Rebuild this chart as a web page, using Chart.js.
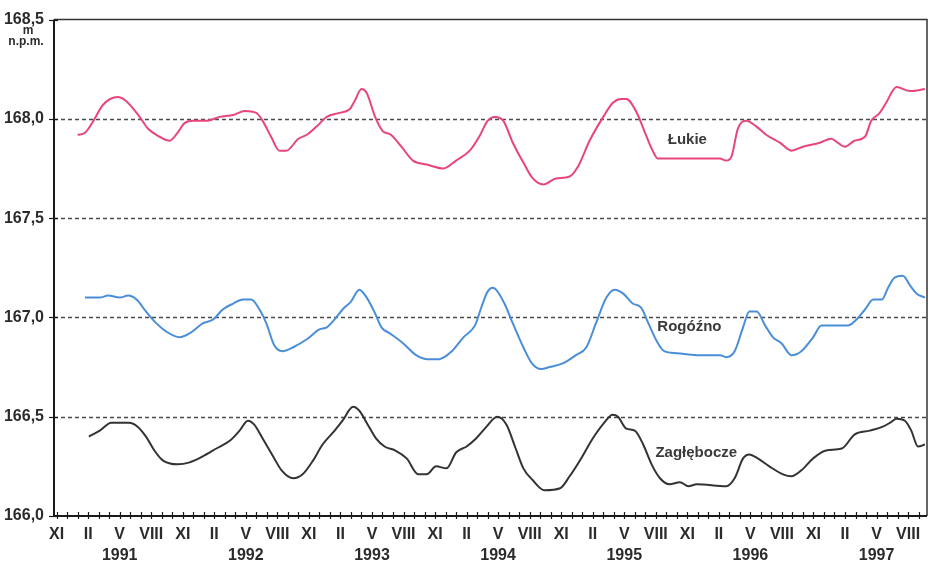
<!DOCTYPE html>
<html><head><meta charset="utf-8">
<script src="https://cdn.jsdelivr.net/npm/chart.js@4.4.1/dist/chart.umd.min.js"></script>
<style>html,body{margin:0;padding:0;background:#fff;}canvas{display:block;}</style>
</head><body>
<canvas id="c" width="931" height="562"></canvas>
<script>
// month index 0 = XI 1990
const seasonLabels = ['XI','II','V','VIII'];
const yearLabels = ['1991','1992','1993','1994','1995','1996','1997'];
const tickMonths = [0,3,6,9,12,15,18,21,24,27,30,33,36,39,42,45,48,51,54,57,60,63,66,69,72,75,78,81];
const yTicks = [166.0,166.5,167.0,167.5,168.0,168.5];
const gridLevels = [166.5,167.0,167.5,168.0];

const lukieMonths = [2.0,2.7,3.5,4.4,5.8,6.6,7.9,8.7,9.8,10.75,11.5,12.2,13.0,14.2,15.5,16.8,17.9,19.0,19.6,20.4,21.2,21.85,23.0,23.8,24.7,25.7,26.9,27.9,28.35,29.0,29.5,30.3,31.0,31.8,32.8,33.9,35.2,36.8,38.0,39.3,40.2,41.0,41.7,42.5,43.4,44.4,45.3,46.3,47.5,48.8,49.6,50.7,52.0,52.9,53.7,54.2,55.2,55.9,56.7,57.2,60.2,63.1,63.7,64.2,64.8,65.6,66.6,67.5,68.8,69.9,71.0,72.6,73.7,74.3,75.0,75.9,76.9,77.5,78.3,78.9,79.9,81.2,82.6];
const lukieLevels = [167.92,167.93,167.99,168.07,168.11,168.09,168.01,167.95,167.91,167.89,167.93,167.98,167.99,167.99,168.01,168.02,168.04,168.03,167.99,167.91,167.84,167.84,167.90,167.92,167.96,168.01,168.03,168.05,168.09,168.15,168.13,168.01,167.94,167.92,167.86,167.79,167.77,167.75,167.79,167.84,167.91,167.99,168.01,167.99,167.88,167.78,167.70,167.67,167.70,167.71,167.76,167.89,168.01,168.08,168.10,168.10,168.03,167.94,167.84,167.80,167.80,167.80,167.79,167.81,167.95,167.99,167.96,167.92,167.88,167.84,167.86,167.88,167.90,167.88,167.86,167.89,167.91,167.99,168.03,168.08,168.16,168.14,168.15];

const rogoznoMonths = [2.7,4.1,4.9,6.0,6.8,7.6,8.5,9.5,10.4,11.7,12.65,13.9,14.9,15.8,16.8,17.7,18.5,19.3,19.95,20.7,21.5,22.5,23.8,25.0,25.7,26.6,27.2,28.0,28.8,29.5,30.3,30.9,31.7,32.95,34.2,35.2,36.4,37.6,38.7,39.8,40.4,41.0,41.5,41.8,42.6,43.4,44.4,45.2,46.1,46.9,48.2,49.4,50.4,51.3,52.3,53.1,53.9,54.8,55.6,56.3,57.1,57.8,59.0,60.9,63.1,63.7,64.5,65.3,65.9,66.6,67.4,68.15,68.95,69.9,70.85,71.96,72.76,73.55,75.3,76.1,76.9,77.7,78.5,79.1,79.7,80.5,81.2,81.8,82.6];
const rogoznoLevels = [167.10,167.10,167.11,167.10,167.11,167.09,167.03,166.97,166.93,166.90,166.92,166.97,166.99,167.04,167.07,167.09,167.09,167.04,166.97,166.86,166.83,166.85,166.89,166.94,166.95,167.00,167.04,167.08,167.14,167.10,167.02,166.95,166.92,166.87,166.81,166.79,166.79,166.83,166.90,166.96,167.05,167.13,167.15,167.14,167.07,166.97,166.85,166.77,166.74,166.75,166.77,166.81,166.85,166.97,167.10,167.14,167.12,167.07,167.05,166.97,166.88,166.83,166.82,166.81,166.81,166.80,166.83,166.95,167.03,167.03,166.96,166.90,166.87,166.81,166.83,166.90,166.96,166.96,166.96,166.99,167.04,167.09,167.09,167.15,167.20,167.21,167.16,167.12,167.10];

const zaglebMonths = [3.07,4.1,5.2,6.0,6.9,7.7,8.5,9.3,10.1,11.5,12.65,13.9,15.2,16.5,17.4,18.2,18.8,19.6,20.6,21.4,22.5,23.4,24.4,25.3,26.45,27.2,28.2,28.8,29.6,30.4,31.2,32.2,33.3,34.4,35.2,36.1,37.1,38.0,39.0,39.9,40.9,41.9,42.8,43.6,44.4,45.3,46.4,47.9,48.8,49.9,51.0,52.1,52.9,53.4,54.2,55.0,55.8,56.6,57.4,58.3,59.3,60.1,60.9,63.7,64.5,65.3,65.9,66.7,67.8,69.1,69.9,70.85,71.96,73.2,74.7,75.9,77.35,78.6,79.3,79.9,80.7,81.3,81.95,82.6];
const zaglebLevels = [166.40,166.43,166.47,166.47,166.47,166.45,166.40,166.33,166.28,166.26,166.27,166.30,166.34,166.38,166.43,166.48,166.46,166.39,166.30,166.23,166.19,166.21,166.28,166.36,166.43,166.48,166.55,166.53,166.46,166.39,166.35,166.33,166.29,166.21,166.21,166.25,166.24,166.32,166.35,166.39,166.45,166.50,166.46,166.35,166.24,166.18,166.13,166.14,166.20,166.29,166.39,166.47,166.51,166.50,166.44,166.43,166.36,166.26,166.19,166.16,166.17,166.15,166.16,166.15,166.19,166.29,166.31,166.29,166.25,166.21,166.20,166.23,166.29,166.33,166.34,166.41,166.43,166.45,166.47,166.49,166.48,166.43,166.35,166.36];

const seriesNames = ['Łukie','Rogóźno','Zagłębocze'];
const nameMonths = [60.0,60.2,60.85];
const nameLevels = [167.896,166.955,166.318];
const unitLines = ['m','n.p.m.'];

const pts = (xs, ys) => xs.map((x, i) => ({x: x, y: ys[i]}));
const FONT = '"Liberation Sans", Arial, sans-serif';

const framePlugin = {
  id: 'frame',
  beforeDatasetsDraw(chart) {
    const {ctx, chartArea: a, scales: {x, y}} = chart;
    ctx.save();
    ctx.strokeStyle = '#4a4a4a';
    ctx.lineWidth = 1.6;
    ctx.setLineDash([4, 3]);
    gridLevels.forEach(v => {
      const py = Math.round(y.getPixelForValue(v)) + 0.5;
      ctx.beginPath(); ctx.moveTo(a.left, py); ctx.lineTo(a.right, py); ctx.stroke();
    });
    ctx.restore();
  },
  afterDatasetsDraw(chart) {
    const {ctx, chartArea: a, scales: {x, y}} = chart;
    ctx.save();
    ctx.setLineDash([]);
    ctx.strokeStyle = '#333';
    ctx.lineWidth = 1.5;
    ctx.beginPath();
    ctx.moveTo(a.left, a.top); ctx.lineTo(a.right, a.top); ctx.lineTo(a.right, a.bottom);
    ctx.stroke();
    ctx.strokeStyle = '#1a1a1a';
    ctx.lineWidth = 2;
    ctx.beginPath();
    ctx.moveTo(a.left, a.top); ctx.lineTo(a.left, a.bottom); ctx.lineTo(a.right, a.bottom);
    ctx.stroke();
    ctx.lineWidth = 1.2;
    for (let m = 0; m <= Math.floor(x.max); m++) {
      const px = Math.round(x.getPixelForValue(m)) + 0.5;
      ctx.beginPath(); ctx.moveTo(px, a.bottom - 4); ctx.lineTo(px, a.bottom + 3); ctx.stroke();
    }
    yTicks.forEach(v => {
      const py = Math.round(y.getPixelForValue(v)) + 0.5;
      ctx.beginPath(); ctx.moveTo(a.left - 5, py); ctx.lineTo(a.left + 4, py); ctx.stroke();
    });
    ctx.fillStyle = '#3a3a3a';
    ctx.font = 'bold 15px ' + FONT;
    ctx.textAlign = 'center';
    ctx.textBaseline = 'middle';
    seriesNames.forEach((n, i) => {
      ctx.fillText(n, x.getPixelForValue(nameMonths[i]), y.getPixelForValue(nameLevels[i]));
    });
    ctx.fillStyle = '#2b2b2b';
    ctx.font = 'bold 12px ' + FONT;
    ctx.fillText(unitLines[0], 28, 31);
    ctx.fillText(unitLines[1], 26, 42);
    ctx.restore();
  }
};

new Chart(document.getElementById('c'), {
  type: 'line',
  data: {
    datasets: [
      {label: seriesNames[0], data: pts(lukieMonths, lukieLevels), borderColor: '#e8457a'},
      {label: seriesNames[1], data: pts(rogoznoMonths, rogoznoLevels), borderColor: '#4a8ed8'},
      {label: seriesNames[2], data: pts(zaglebMonths, zaglebLevels), borderColor: '#333333'}
    ]
  },
  options: {
    responsive: false,
    animation: false,
    devicePixelRatio: 1,
    layout: {padding: {top: 12, right: 4, left: 0, bottom: 0}},
    elements: {
      line: {borderWidth: 2, cubicInterpolationMode: 'monotone', fill: false},
      point: {radius: 0, hoverRadius: 0}
    },
    plugins: {legend: {display: false}, tooltip: {enabled: false}},
    scales: {
      x: {
        type: 'linear',
        min: -0.25,
        max: 82.8,
        grid: {display: false, drawTicks: false},
        border: {display: false},
        afterBuildTicks: s => { s.ticks = tickMonths.map(v => ({value: v})); },
        afterFit: s => { s.height = 46; },
        ticks: {
          autoSkip: false,
          maxRotation: 0,
          padding: 8,
          color: '#2b2b2b',
          font: {family: FONT, size: 16, weight: 'bold', lineHeight: 1.3},
          callback: (v) => {
            const i = tickMonths.indexOf(v);
            const s = seasonLabels[i % 4];
            return (i % 4 === 2) ? [s, yearLabels[(i - 2) / 4]] : s;
          }
        }
      },
      y: {
        type: 'linear',
        min: 166,
        max: 168.5,
        grid: {display: false, drawTicks: false},
        border: {display: false},
        afterBuildTicks: s => { s.ticks = yTicks.map(v => ({value: v})); },
        afterFit: s => { s.width = 54; },
        ticks: {
          padding: 10,
          color: '#2b2b2b',
          font: {family: FONT, size: 16, weight: 'bold'},
          callback: v => v.toFixed(1).replace('.', ',')
        }
      }
    }
  },
  plugins: [framePlugin]
});
</script>
</body></html>
